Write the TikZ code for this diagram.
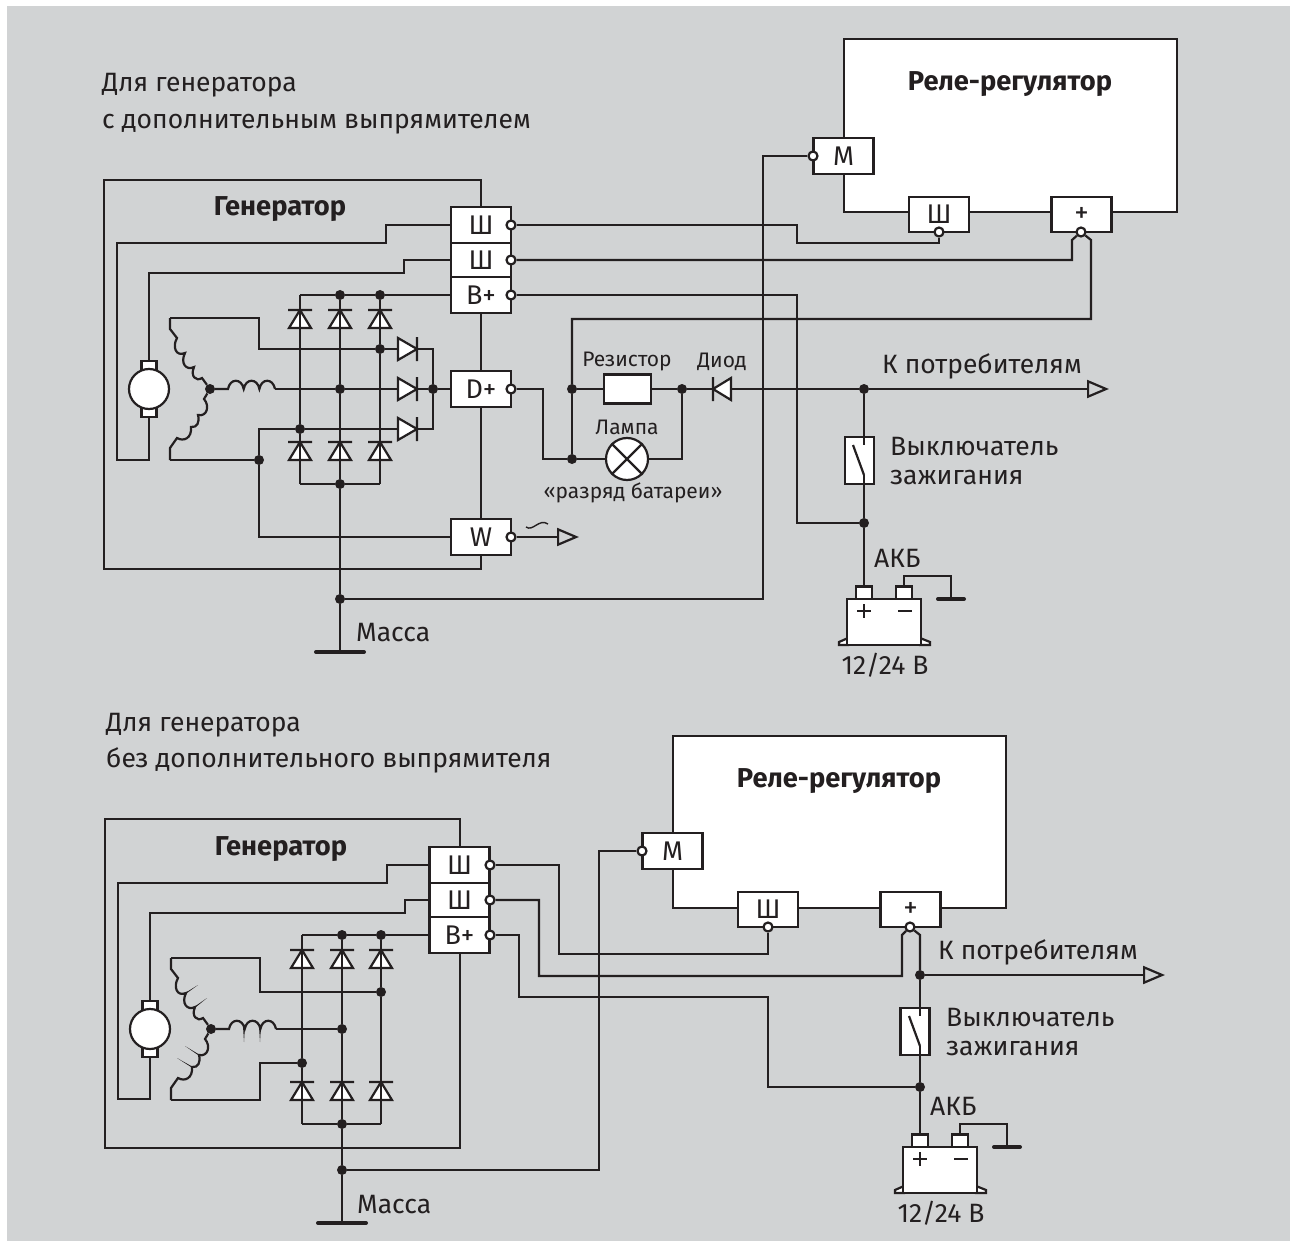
\documentclass[tikz,border=0pt]{standalone}
\usepackage{fontspec}
\setmainfont{Fira Sans}
\usetikzlibrary{arrows.meta}
\definecolor{ink}{HTML}{231F20}
\definecolor{panel}{HTML}{D1D3D4}
\begin{document}
\begin{tikzpicture}[x=1pt,y=-1pt]
  \tikzset{wire/.style = {draw=ink,line width=2.2pt,line join=miter}}
  \tikzset{symbol/.style = {draw=ink,line width=2.2pt,fill=white}}
  \tikzset{frame/.style = {draw=ink,line width=2.2pt,inner sep=0pt,minimum width=#1}}
  \tikzset{term/.style = {symbol,inner sep=0pt,minimum width=60pt,minimum height=36pt,text=ink,font=\fontsize{27}{30}\selectfont}}
  \tikzset{port/.style = {shape=circle,symbol,inner sep=0pt,minimum size=9pt}}
  \tikzset{junction/.style = {shape=circle,fill=ink,inner sep=0pt,minimum size=10pt}}
  \tikzset{txt/.style = {text=ink,inner sep=0pt,yshift=-3pt,font=\fontsize{26.5}{30}\selectfont}}
  \tikzset{small/.style = {text=ink,inner sep=0pt,yshift=-2pt,font=\fontsize{21}{25}\selectfont}}
  \tikzset{heavy/.style = {text=ink,inner sep=0pt,yshift=-3pt,font=\fontsize{27.3}{30}\selectfont\bfseries}}
  \tikzset{feed/.style = {wire,-{Triangle[open,length=22pt,width=18pt,line width=2.2pt]}}}
  \tikzset{gnd/.style = {draw=ink,line width=4pt,line cap=round}}

  \useasboundingbox (0,0) rectangle (1290,1241);
  \fill[panel] (7,6) rectangle (1290,1241);

  \node[txt,anchor=west] (ha1) at (102,82) {Для генератора};
  \node[txt,anchor=west] (ha2) at (102,121) {с дополнительным выпрямителем};
  \node[txt,anchor=west] (hb1) at (106,722) {Для генератора};
  \node[txt,anchor=west] (hb2) at (106,757) {без дополнительного выпрямителя};

  \node[frame=377pt,minimum height=389pt] (gena) at (292.5,374.5) {};
  \node[frame=355pt,minimum height=329pt] (genb) at (282.5,983.5) {};
  \node[frame=333pt,minimum height=173pt,fill=white] (rela) at (1010.5,125.5) {};
  \node[frame=333pt,minimum height=172pt,fill=white] (relb) at (839.5,822) {};
  \node[heavy] (ta) at (280,206) {Генератор};
  \node[heavy] (tb) at (281,846) {Генератор};
  \node[heavy] (tra) at (1010,81) {Реле-регулятор};
  \node[heavy] (trb) at (839,778) {Реле-регулятор};

  \node[term] (sa1) at (481,225) {Ш};
  \node[term,minimum height=34pt] (sa2) at (481,260) {Ш};
  \node[term] (ba) at (481,295) {В+};
  \node[term] (da) at (481,389) {D+};
  \node[term] (wa) at (481,537) {W};
  \node[term] (ma) at (843.5,156) {М};
  \node[term,minimum height=35pt] (sra) at (939,214.5) {Ш};
  \node[term,minimum height=35pt,font=\fontsize{29}{30}\selectfont] (pa) at (1081.5,214.5) {+};
  \node[term] (sb1) at (459.5,865) {Ш};
  \node[term,minimum height=34pt] (sb2) at (459.5,900) {Ш};
  \node[term] (bb) at (459.5,935) {В+};
  \node[term] (mb) at (672.5,851) {М};
  \node[term,minimum height=35pt] (srb) at (768,909.5) {Ш};
  \node[term,minimum height=35pt,font=\fontsize{29}{30}\selectfont] (pb) at (910.5,909.5) {+};

  \foreach \name/\x/\y in {qa1/511/225,qa2/511/260,qba/511/295,qda/511/389,qwa/511/537,qma/813/156,qsa/939/232,qpa/1081/232,
    qb1/490/865,qb2/490/900,qbb/490/935,qmb/642/851,qsb/768/927,qpb/910/927}
    \node[port] (\name) at (\x,\y) {};

  \foreach \name/\x/\y in {ja1/340/295,ja2/380/295,ja3/380/349,ja4/340/389,ja5/433/389,ja6/300/429,ja7/259/460,ja8/340/484,ja9/340/599,
    ja10/572/389,ja11/682/389,ja12/572/459,ja13/864/389,ja14/864/523,
    jb1/342/935,jb2/381/935,jb3/381/992,jb4/342/1029,jb6/302/1063,jb8/342/1124,jb9/342/1170,jb13/920/975,jb14/920/1087}
    \node[junction] (\name) at (\x,\y) {};

  % bridge diodes, the wires run over them
  \foreach \x/\y in {300/310,340/310,380/310,300/442,340/442,380/442,302/950,342/950,381/950,302/1082,342/1082,381/1082}
    \draw[symbol] (\x-11,\y+18) -- (\x+11,\y+18) -- (\x,\y) -- cycle (\x-12,\y) -- (\x+12,\y);

  % motor and windings
  \foreach \i/\dx/\dy in {a/0/0,b/1/640}{
    \begin{scope}[shift={(\dx,\dy)}]
      \node[symbol,minimum width=15pt,minimum height=56pt,inner sep=0pt] (br\i) at (149,389) {};
      \node[shape=circle,symbol,minimum size=40pt,inner sep=0pt] (mot\i) at (149,389) {};
      \node[junction] (star\i) at (210,389) {};
      \coordinate (st\i) at (170,318);
      \coordinate (sb\i) at (170,460);
      \coordinate (ls\i) at (275,389);
      \draw[wire] (st\i) -- (170,329) -- (177,338) .. controls +(-5,9) and +(-9,4) .. ++(8,15)
        .. controls +(-5,10) and +(-8,4) .. ++(9,14) .. controls +(-4,9) and +(-6,4) .. ++(8,11) -- (star\i);
      \draw[wire] (sb\i) -- (170,448) -- (177,438) .. controls +(7,4) and +(1,11) .. ++(14,-11)
        .. controls +(6,1) and +(2,7) .. ++(7,-12) .. controls +(9,2) and +(6,7) .. ++(6,-16) -- (star\i);
      \draw[wire] (star\i) -- (228,389) .. controls +(2,-11) and +(-2,-11) .. ++(15.7,0)
        .. controls +(2,-11) and +(-2,-11) .. ++(15.7,0) .. controls +(2,-11) and +(-2,-11) .. (ls\i);
    \end{scope}
  }
  \foreach \a/\b/\c/\d in {186/993/198/985,195/1007/207/998,199/1055/185/1046,192/1067/177/1058,244/1026/244/1042,260/1026/260/1042}
    \fill[ink] (\a-1,\b) -- (\c,\d) -- (\a+1,\b) -- cycle;

  % battery and its earth
  \foreach \i/\dx/\dy in {a/0/0,b/56/548}{
    \begin{scope}[shift={(\dx,\dy)}]
      \draw[symbol] (848,638) -- (839,642) -- (839,645) -- (848,645) -- cycle (920,638) -- (930,642) -- (930,645) -- (920,645) -- cycle;
      \node[symbol,minimum width=16pt,minimum height=13pt,inner sep=0pt] (bp\i) at (864,593) {};
      \node[symbol,minimum width=16pt,minimum height=13pt,inner sep=0pt] (bn\i) at (904,593) {};
      \node[symbol,minimum width=74pt,minimum height=46pt,inner sep=0pt] (bat\i) at (884,622) {};
      \draw[draw=ink,line width=1.5pt] (857,611) -- (871,611) (864,604) -- (864,618);
      \draw[draw=ink,line width=2.5pt] (898,611) -- (912,611);
      \coordinate (ge\i) at (951,599);
      \draw[wire] (bn\i) |- (951,576) -- (ge\i);
      \draw[gnd] (938,599) -- (964,599);
      \node[txt,anchor=west] (akb\i) at (874,555) {АКБ};
      \node[txt] (v\i) at (885,662) {12/24 В};
    \end{scope}
  }

  % switches, resistor and lamp
  \foreach \i/\x/\y in {a/859.5/460.5,b/915/1031.5}
    \node[symbol,minimum width=29pt,minimum height=47pt,inner sep=0pt] (sw\i) at (\x,\y) {};
  \foreach \i/\dx/\dy in {a/0/0,b/56/571}{
    \begin{scope}[shift={(\dx,\dy)}]
      \coordinate (swu\i) at (864,445);
      \coordinate (swd\i) at (864,475);
      \draw[wire] (853,445) -- (swd\i);
    \end{scope}
  }
  \node[symbol,minimum width=47pt,minimum height=29pt,inner sep=0pt] (res) at (627.5,389) {};
  \node[shape=circle,symbol,minimum size=42pt,inner sep=0pt] (lamp) at (627,459) {};
  \draw[wire] (lamp.45) -- (lamp.225) (lamp.135) -- (lamp.315);

  \coordinate (ca1) at (300,295);
  \coordinate (ca2) at (300,484);
  \coordinate (ca3) at (380,484);
  \coordinate (cb1) at (302,935);
  \coordinate (cb2) at (302,1124);
  \coordinate (cb3) at (381,1124);
  \coordinate (ga) at (340,652);
  \coordinate (gb) at (342,1223);
  \coordinate (outw) at (579,537);
  \coordinate (outa) at (1109,389);
  \coordinate (outb) at (1165,975);

  \foreach \from/\to in {ba/ja2,ja2/ja1,ja1/ca1,ca1/ja6,ja6/ca2,ca2/ja8,ja8/ca3,ca3/ja3,ja3/ja2,ja1/ja4,ja4/ja8,ja8/ja9,ja9/ga,
      lsa/ja4,ja4/ja5,ja5/da,ja10/res,res/ja11,ja11/ja13,ja10/ja12,ja12/lamp,ja13/swua,swda/ja14,ja14/bpa,
      bb/jb2,jb2/jb1,jb1/cb1,cb1/jb6,jb6/cb2,cb2/jb8,jb8/cb3,cb3/jb3,jb3/jb2,jb1/jb4,jb4/jb8,jb8/jb9,jb9/gb,
      lsb/jb4,jb13/swub,swdb/jb14,jb14/bpb}
    \draw[wire] (\from) -- (\to);

  \draw[wire] (sa1) -| (386,243) -| (117,460) -| (bra);
  \draw[wire] (sa2) -| (404,273) -| (bra);
  \draw[wire] (sta) -| (259,349) -- (ja3) -- (433,349) -- (ja5);
  \draw[wire] (sba) -- (ja7) |- (ja6) -- (433,429) -- (ja5);
  \draw[wire] (ja7) |- (wa);
  \draw[wire] (qa1) -| (797,243) -| (qsa);
  \draw[wire] (qa2) -- (1072,260) -- (1072,240) -- (qpa);
  \draw[wire] (ja10) |- (1091,319) -- (1091,240) -- (qpa);
  \draw[wire] (qba) -| (797,523) -- (ja14);
  \draw[wire] (qda) -| (543,459) -- (ja12);
  \draw[wire] (lamp) -| (ja11);
  \draw[wire] (qma) -| (763,599) -- (ja9);
  \draw[feed] (qwa) -- (outw);
  \draw[feed] (ja13) -- (outa);

  \draw[wire] (sb1) -| (387,883) -| (118,1099) -| (brb);
  \draw[wire] (sb2) -| (405,913) -| (brb);
  \draw[wire] (stb) -| (260,992) -- (jb3);
  \draw[wire] (sbb) -| (260,1063) -- (jb6);
  \draw[wire] (qb1) -| (559,954) -| (qsb);
  \draw[wire] (qb2) -| (539,976) -- (902,976) -- (902,935) -- (qpb);
  \draw[wire] (qpb) -- (920,935) -- (jb13);
  \draw[wire] (qbb) -| (519,997) -| (768,1087) -- (jb14);
  \draw[wire] (qmb) -| (599,1170) -- (jb9);
  \draw[feed] (jb13) -- (outb);

  % diodes lying on the wires
  \foreach \x in {349,389,429}
    \draw[symbol] (398,\x-11) -- (398,\x+11) -- (417,\x) -- cycle (417,\x-12) -- (417,\x+12);
  \draw[symbol] (731,378) -- (731,400) -- (713,389) -- cycle (713,377) -- (713,401);
  \draw[draw=ink,line width=1.4pt] (526,527) .. controls (533,532) and (539,518) .. (548,524);
  \foreach \g in {ga,gb}
    \draw[gnd] ([xshift=-24pt]\g) -- ([xshift=24pt]\g);

  \node[small] (lr) at (627,360) {Резистор};
  \node[small] (ld) at (722,360) {Диод};
  \node[small] (ll) at (627,425) {Лампа};
  \node[small] (ld2) at (633,491) {«разряд батареи»};
  \node[txt,anchor=west] (pota) at (882,363) {К потребителям};
  \node[txt,anchor=west] (potb) at (938,949) {К потребителям};
  \node[txt,anchor=west] (kea1) at (890,444) {Выключатель};
  \node[txt,anchor=west] (kea2) at (890,475) {зажигания};
  \node[txt,anchor=west] (keb1) at (946,1015) {Выключатель};
  \node[txt,anchor=west] (keb2) at (946,1046) {зажигания};
  \node[txt,anchor=west] (mga) at (356,630) {Масса};
  \node[txt,anchor=west] (mgb) at (357,1202) {Масса};
\end{tikzpicture}
\end{document}
